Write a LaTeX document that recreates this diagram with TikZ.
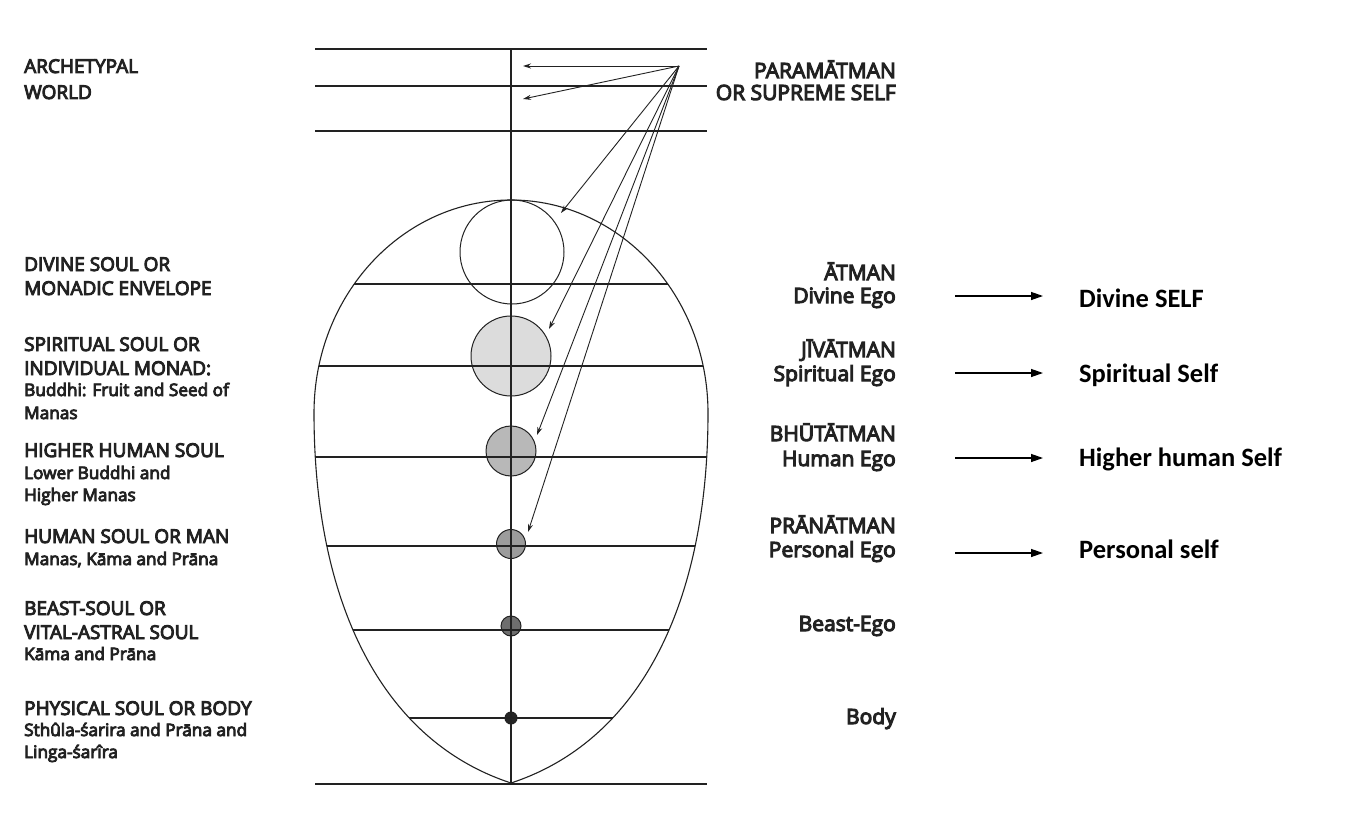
\documentclass[tikz,border=0pt]{standalone}
\usepackage{fontspec}
\setmainfont{Open Sans}
\newfontfamily\labfont[FakeBold=5]{Open Sans}
\newfontfamily\selffont{Carlito}
\usetikzlibrary{arrows.meta}
\definecolor{ink}{HTML}{222222}
\definecolor{c2fill}{HTML}{DCDCDC}
\definecolor{c3fill}{HTML}{B8B8B8}
\definecolor{c4fill}{HTML}{9C9C9C}
\definecolor{c5fill}{HTML}{6E6E6E}
\definecolor{c6fill}{HTML}{262626}
\tikzset{
  rule/.style={draw=ink, line width=1.1pt},
  toprule/.style={draw=ink, line width=1.6pt},
  thinarrow/.style={draw=ink, line width=0.9pt, -{Stealth[length=8pt,width=5pt]}},
  bigarrow/.style={draw=black, line width=1.3pt, -{Triangle[length=12pt,width=8pt]}},
  capslab/.style={font=\labfont\fontsize{19}{22}\selectfont, text=ink, anchor=base west, inner sep=0pt},
  smalllab/.style={font=\labfont\fontsize{17.2}{19}\selectfont, text=ink, anchor=base west, inner sep=0pt},
  rightcap/.style={font=\labfont\fontsize{21}{22}\selectfont, text=ink, anchor=base east, inner sep=0pt},
  rightsmall/.style={font=\labfont\fontsize{21}{22}\selectfont, text=ink, anchor=base east, inner sep=0pt},
  selflab/.style={font=\selffont\bfseries\fontsize{26.5}{30}\selectfont, text=black, anchor=base west, inner sep=0pt},
  soul/.style={draw=ink, line width=1pt}
}
\begin{document}
\begin{tikzpicture}[x=1pt,y=-1pt]
\useasboundingbox[fill=white] (0,0) rectangle (1349,824);

% egg outline path
\def\eggpath{(314,413) .. controls (314,295.4) and (402.2,200) .. (511,200)
  .. controls (619.8,200) and (708,295.4) .. (708,413)
  .. controls (708,600) and (642,740) .. (511,783)
  .. controls (380,740) and (314,600) .. (314,413) -- cycle}

% circles (souls)
\fill[white] (512,252) circle[radius=52];
\fill[c2fill] (511,356) circle[radius=40];
\fill[c3fill] (511,451) circle[radius=25];
\fill[c4fill] (511,544) circle[radius=14.5];
\fill[c5fill] (511,626) circle[radius=10];
\fill[c6fill] (511,718) circle[radius=6];

% horizontal lines inside egg
\begin{scope}
\clip \eggpath;
\foreach \yy in {284,366,457,546,630,718} \draw[rule] (300,\yy) -- (720,\yy);
\end{scope}
\draw[rule] \eggpath;

% top and bottom rules
\draw[toprule] (315,49) -- (707,49);
\draw[toprule] (315,86) -- (707,86);
\draw[toprule] (315,131) -- (707,131);
\draw[toprule] (315,784) -- (707,784);
% axis
\draw[rule] (511,49) -- (511,784);

% circle outlines
\draw[soul] (512,252) circle[radius=52];
\draw[soul] (511,356) circle[radius=40];
\draw[soul] (511,451) circle[radius=25];
\draw[soul] (511,544) circle[radius=14.5];
\draw[soul] (511,626) circle[radius=10];
\draw[soul] (511,718) circle[radius=6];

% arrows from the supreme self
\coordinate (src) at (679,66);
\coordinate (t1) at (523,66);
\coordinate (t2) at (523,99);
\coordinate (t3) at (561,213);
\coordinate (t4) at (549,329);
\coordinate (t5) at (537,435);
\coordinate (t6) at (528,532);
\foreach \t in {t1,t2,t3,t4,t5,t6} \draw[thinarrow] (src) -- (\t);

% left labels
\node[capslab] (l1a) at (24,73) {ARCHETYPAL};
\node[capslab] (l1b) at (24,99) {WORLD};
\node[capslab] (l2a) at (24,271) {DIVINE SOUL OR};
\node[capslab] (l2b) at (24,295) {MONADIC ENVELOPE};
\node[capslab] (l3a) at (24,351) {SPIRITUAL SOUL OR};
\node[capslab] (l3b) at (24,375) {INDIVIDUAL MONAD:};
\node[smalllab] (l3c) at (24,396) {Buddhi: Fruit and Seed of};
\node[smalllab] (l3d) at (24,419) {Manas};
\node[capslab] (l4a) at (24,457) {HIGHER HUMAN SOUL};
\node[smalllab] (l4b) at (24,479) {Lower Buddhi and};
\node[smalllab] (l4c) at (24,501) {Higher Manas};
\node[capslab] (l5a) at (24,543) {HUMAN SOUL OR MAN};
\node[smalllab] (l5b) at (24,565) {Manas, Kāma and Prāna};
\node[capslab] (l6a) at (24,615) {BEAST-SOUL OR};
\node[capslab] (l6b) at (24,639) {VITAL-ASTRAL SOUL};
\node[smalllab] (l6c) at (24,660) {Kāma and Prāna};
\node[capslab] (l7a) at (24,715) {PHYSICAL SOUL OR BODY};
\node[smalllab] (l7b) at (24,736) {Sthûla-śarira and Prāna and};
\node[smalllab] (l7c) at (24,758) {Linga-śarîra};

% right column labels
\node[rightcap] (r1a) at (896,78) {PARAMĀTMAN};
\node[rightcap] (r1b) at (896,100) {OR SUPREME SELF};
\node[rightcap] (r2a) at (896,280) {ĀTMAN};
\node[rightsmall] (r2b) at (896,303) {Divine Ego};
\node[rightcap] (r3a) at (896,357) {JĪVĀTMAN};
\node[rightsmall] (r3b) at (896,381) {Spiritual Ego};
\node[rightcap] (r4a) at (896,441) {BHŪTĀTMAN};
\node[rightsmall] (r4b) at (896,466) {Human Ego};
\node[rightcap] (r5a) at (896,533) {PRĀNĀTMAN};
\node[rightsmall] (r5b) at (896,557) {Personal Ego};
\node[rightsmall] (r6) at (896,631) {Beast-Ego};
\node[rightsmall] (r7) at (896,724) {Body};

% self labels
\node[selflab] (s1) at (1079,307) {Divine SELF};
\node[selflab] (s2) at (1079,382) {Spiritual Self};
\node[selflab] (s3) at (1079,466) {Higher human Self};
\node[selflab] (s4) at (1079,558) {Personal self};

\coordinate (a1s) at (955,296); \coordinate (a1e) at (1043,296);
\coordinate (a2s) at (955,373); \coordinate (a2e) at (1043,373);
\coordinate (a3s) at (955,458); \coordinate (a3e) at (1043,458);
\coordinate (a4s) at (955,553); \coordinate (a4e) at (1043,553);
\draw[bigarrow] (a1s) -- (a1e);
\draw[bigarrow] (a2s) -- (a2e);
\draw[bigarrow] (a3s) -- (a3e);
\draw[bigarrow] (a4s) -- (a4e);
\end{tikzpicture}
\end{document}
